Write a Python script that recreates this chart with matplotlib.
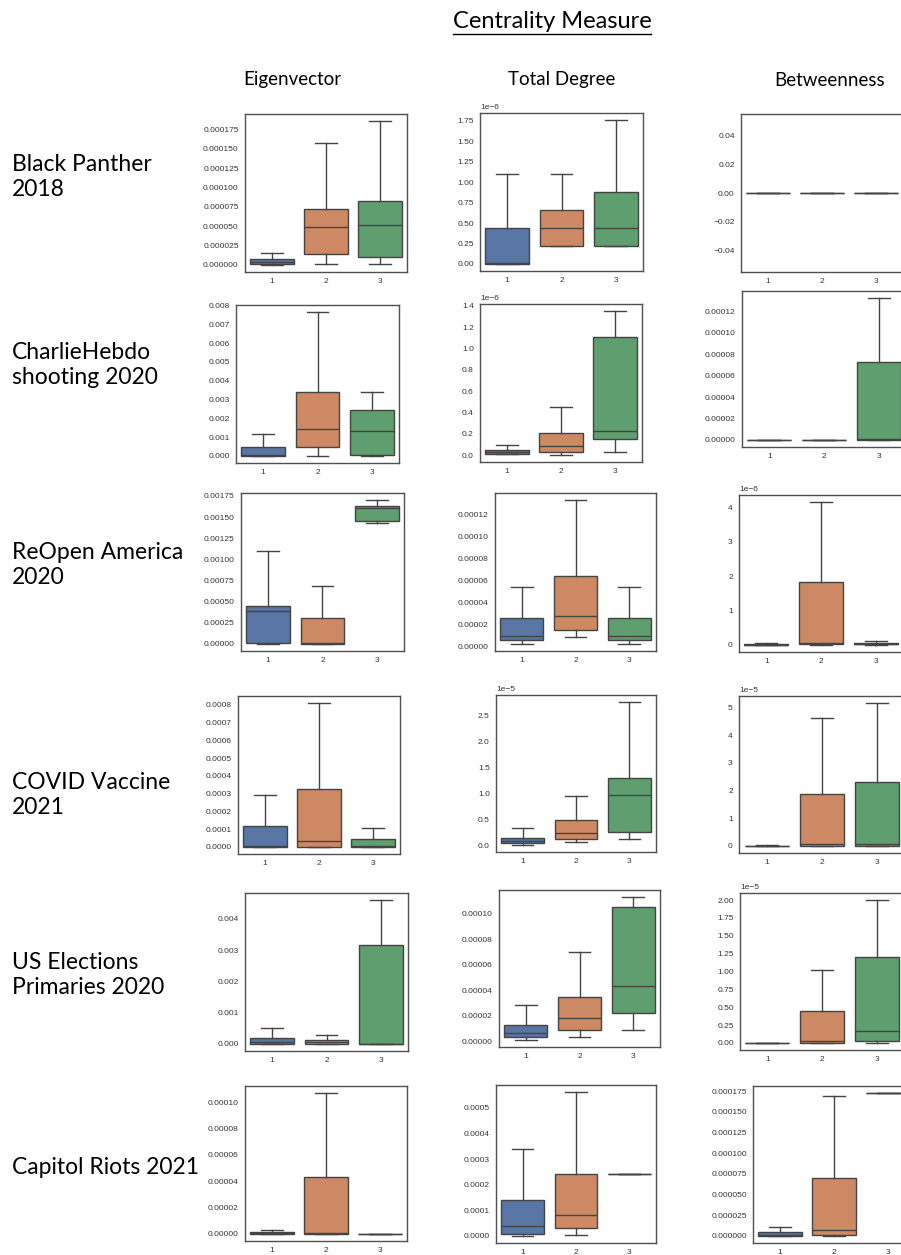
import matplotlib
matplotlib.use("Agg")
import matplotlib.pyplot as plt
from matplotlib.ticker import MultipleLocator
from matplotlib.lines import Line2D

# ---------------- data ----------------
TITLE = "Centrality Measure"
MEASURES = ["Eigenvector", "Total Degree", "Betweenness"]
DATASETS = ["Black Panther\n2018", "CharlieHebdo\nshooting 2020", "ReOpen America\n2020",
            "COVID Vaccine\n2021", "US Elections\nPrimaries 2020", "Capitol Riots 2021"]
GROUPS = ["1", "2", "3"]
COLORS = ["#5975A4", "#CC8963", "#5F9E6E"]

# each group: [whislo, q1, median, q3, whishi]
BP_EIG = [[0.0, 0.0000005, 0.000003, 0.0000069, 0.0000150],
          [0.0000009, 0.0000146, 0.0000490, 0.0000718, 0.0001574],
          [0.0000009, 0.0000099, 0.0000516, 0.0000821, 0.0001857]]
BP_DEG = [[0.0, 0.0, 0.000000005, 0.00000044, 0.00000110],
          [0.00000022, 0.00000022, 0.00000044, 0.00000066, 0.00000110],
          [0.00000022, 0.00000022, 0.00000044, 0.00000088, 0.00000176]]
BP_BTW = [[0.0, 0.0, 0.0, 0.0, 0.0],
          [0.0, 0.0, 0.0, 0.0, 0.0],
          [0.0, 0.0, 0.0, 0.0, 0.0]]

CH_EIG = [[0.0, 0.0, 0.00002, 0.00045, 0.00114],
          [0.0, 0.00048, 0.00141, 0.00342, 0.00764],
          [0.0, 0.00005, 0.00134, 0.00243, 0.00342]]
CH_DEG = [[0.000000006, 0.000000006, 0.000000025, 0.000000047, 0.000000097],
          [0.000000003, 0.000000028, 0.000000082, 0.000000204, 0.000000455],
          [0.000000025, 0.000000148, 0.000000223, 0.000001105, 0.00000135]]
CH_BTW = [[0.0, 0.0, 0.0, 0.0, 0.0],
          [0.0, 0.0, 0.0, 0.0, 0.0],
          [0.0, 0.0, 0.0000006, 0.0000729, 0.0001323]]

RO_EIG = [[0.0, 0.000004, 0.000383, 0.000447, 0.001098],
          [0.0, 0.0, 0.000005, 0.00031, 0.000684],
          [0.001427, 0.001458, 0.00161, 0.001632, 0.0017]]
RO_DEG = [[0.0000027, 0.0000061, 0.0000100, 0.0000258, 0.0000547],
          [0.0000085, 0.0000152, 0.0000283, 0.0000641, 0.0001331],
          [0.0000027, 0.0000061, 0.0000100, 0.0000258, 0.0000547]]
RO_BTW = [[0.0, 0.0, 0.000000005, 0.00000002, 0.00000005],
          [0.0, 0.00000002, 0.00000006, 0.00000184, 0.00000415],
          [0.0, 0.00000002, 0.00000003, 0.00000006, 0.00000012]]

CV_EIG = [[0.0, 0.0, 0.000003, 0.00012, 0.00029],
          [0.0, 0.0, 0.00003, 0.000325, 0.00081],
          [0.0, 0.0, 0.000003, 0.000046, 0.000105]]
CV_DEG = [[0.0000002, 0.0000005, 0.0000009, 0.0000016, 0.0000034],
          [0.0000008, 0.0000014, 0.0000024, 0.0000049, 0.0000095],
          [0.0000013, 0.0000027, 0.0000097, 0.0000130, 0.0000275]]
CV_BTW = [[0.0, 0.0, 0.00000005, 0.0000001, 0.0000004],
          [0.0, 0.0000001, 0.0000006, 0.0000189, 0.0000464],
          [0.0, 0.0000001, 0.0000007, 0.0000231, 0.0000516]]

US_EIG = [[0.0, 0.00001, 0.00006, 0.00019, 0.0005],
          [0.0, 0.00001, 0.00006, 0.00012, 0.00029],
          [0.0, 0.0, 0.00001, 0.00318, 0.0046]]
US_DEG = [[0.000001, 0.000003, 0.000006, 0.0000125, 0.000028],
          [0.000003, 0.000009, 0.0000185, 0.0000345, 0.000070],
          [0.0000085, 0.000022, 0.0000436, 0.000105, 0.000113]]
US_BTW = [[0.0, 0.0, 0.0, 0.00000002, 0.00000004],
          [0.0, 0.00000005, 0.0000002, 0.0000044, 0.0000102],
          [0.00000005, 0.00000023, 0.0000017, 0.0000121, 0.0000200]]

CR_EIG = [[0.0, 0.0, 0.0000007, 0.0000015, 0.0000032],
          [0.0, 0.0, 0.0000005, 0.0000430, 0.0001068],
          [0.0, 0.0, 0.0, 0.0000002, 0.0000002]]
CR_DEG = [[0.0, 0.000008, 0.000037, 0.000141, 0.000338],
          [0.000003, 0.000029, 0.00008, 0.000243, 0.000561],
          [0.00024, 0.00024, 0.00024, 0.00024, 0.00024]]
CR_BTW = [[0.0, 0.0, 0.000001, 0.0000048, 0.0000104],
          [0.0, 0.0000008, 0.0000072, 0.0000701, 0.0001694],
          [0.0001726, 0.0001726, 0.0001726, 0.0001726, 0.0001726]]

PANELS = [[BP_EIG, BP_DEG, BP_BTW],
          [CH_EIG, CH_DEG, CH_BTW],
          [RO_EIG, RO_DEG, RO_BTW],
          [CV_EIG, CV_DEG, CV_BTW],
          [US_EIG, US_DEG, US_BTW],
          [CR_EIG, CR_DEG, CR_BTW]]

# y tick spacing per panel
YSTEP = [[0.000025, 0.25e-6, 0.02],
         [0.001, 0.2e-6, 0.00002],
         [0.00025, 0.00002, 1e-6],
         [0.0001, 0.5e-5, 1e-5],
         [0.001, 0.00002, 0.25e-5],
         [0.00002, 0.0001, 0.000025]]

# ---------------- layout (pixel boxes: left, top, right, bottom) ----------------
W, H = 901, 1255
BOXES = [[(245, 114, 407, 272), (480, 113, 643, 271), (741, 114, 903, 272)],
         [(236, 305, 399, 463), (480, 304, 642, 462), (742, 291, 906, 447)],
         [(241, 493, 404, 651), (495, 493, 656, 651), (739, 495, 903, 652)],
         [(238, 696, 400, 854), (496, 695, 656, 852), (739, 696, 904, 853)],
         [(245, 893, 408, 1051), (499, 890, 660, 1047), (740, 893, 904, 1050)],
         [(245, 1086, 407, 1241), (496, 1085, 656, 1243), (753, 1086, 915, 1243)]]
ROW_Y = [177, 365, 565, 795, 975, 1168]
COL_X = [292, 562, 830]

TICK_FONT = "Liberation Sans"
HEAD_FONT = "Lato"
LINE_GRAY = "#444444"

plt.rcParams["font.family"] = [TICK_FONT, "DejaVu Sans"]
fig = plt.figure(figsize=(W / 100, H / 100), dpi=100)
fig.patch.set_facecolor("white")

for r, row in enumerate(PANELS):
    for c, groups in enumerate(row):
        l, t, rr, b = BOXES[r][c]
        ax = fig.add_axes([l / W, 1 - b / H, (rr - l) / W, (b - t) / H])
        stats = []
        for g, vals in zip(GROUPS, groups):
            stats.append(dict(label=g, whislo=vals[0], q1=vals[1], med=vals[2],
                              q3=vals[3], whishi=vals[4], fliers=[]))
        bp = ax.bxp(stats, positions=range(len(GROUPS)), widths=0.8, patch_artist=True,
                    showfliers=False,
                    boxprops=dict(edgecolor=LINE_GRAY, linewidth=1.0),
                    whiskerprops=dict(color=LINE_GRAY, linewidth=1.0),
                    capprops=dict(color=LINE_GRAY, linewidth=1.0),
                    medianprops=dict(color=LINE_GRAY, linewidth=1.0))
        for patch, col in zip(bp["boxes"], COLORS):
            patch.set_facecolor(col)
        ax.set_xlim(-0.5, len(GROUPS) - 0.5)
        ax.set_xticks(range(len(GROUPS)))
        ax.set_xticklabels(GROUPS)
        ax.yaxis.set_major_locator(MultipleLocator(YSTEP[r][c]))
        ax.tick_params(length=0, labelsize=6.0, colors="#333333", pad=4.5)
        ax.yaxis.get_offset_text().set_fontsize(6.0)
        ax.yaxis.get_offset_text().set_color("#333333")
        for sp in ax.spines.values():
            sp.set_color("#505050")
            sp.set_linewidth(1.0)
        ax.set_facecolor("white")

# headings
title = fig.text(552 / W, 1 - 22 / H, TITLE, ha="center", va="center",
                 fontsize=17, family=[HEAD_FONT, "DejaVu Sans"], color="black")
for x, name in zip(COL_X, MEASURES):
    fig.text(x / W, 1 - 80 / H, name, ha="center", va="center",
             fontsize=13.5, family=[HEAD_FONT, "DejaVu Sans"], color="black")
for y, name in zip(ROW_Y, DATASETS):
    fig.text(12 / W, 1 - y / H, name, ha="left", va="center", linespacing=1.2,
             fontsize=16.5, family=[HEAD_FONT, "DejaVu Sans"], color="black")

# underline the main title
fig.canvas.draw()
bb = title.get_window_extent(fig.canvas.get_renderer())
uy = 1 - 34 / H
fig.add_artist(Line2D([bb.x0 / W, bb.x1 / W], [uy, uy], transform=fig.transFigure,
                      color="black", linewidth=1.0))

fig.savefig("out.png", dpi=100, facecolor="white")
